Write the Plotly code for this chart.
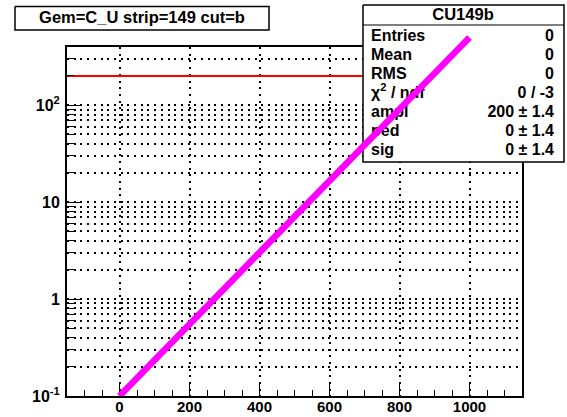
import plotly.graph_objects as go

W, H = 567, 417

# ---- axis data ----
x_range = [-150, 1150]
x_major = [0, 200, 400, 600, 800, 1000]
x_labels = ["0", "200", "400", "600", "800", "1000"]
y_decades = [0.1, 1, 10, 100]
y_labels = ["10<sup>-1</sup>", "1", "10", "10<sup>2</sup>"]
y_log_range = [-1, 2.6]
y_minor = [m * d for d in [0.1, 1, 10, 100] for m in range(2, 10) if m * d < 400]

# ---- curves ----
fit_x = [-150, 1150]          # fitted constant level (ampl)
fit_y = [200, 200]
diag_x = [0, 1000]            # reference line, drawn over the stats box
diag_y = [0.1, 500]

# ---- texts ----
title_text = "Gem=C_U strip=149 cut=b"
stats_name = "CU149b"
stats_labels = ["Entries", "Mean", "RMS", "\u03c7<sup>2</sup> / ndf", "ampl", "ped", "sig"]
stats_values = ["0", "0", "0", "0 / -3", "200 \u00b1 1.4", "0 \u00b1 1.4", "0 \u00b1 1.4"]

FONT = "Liberation Sans, Arial, Helvetica, sans-serif"

# frame in pixels
fl, fr, ft, fb = 67, 522, 47, 396
xdom = [fl / W, fr / W]
ydom = [(H - fb) / H, (H - ft) / H]
# pixels per decade, used to extend the overlay axis above the frame
ppd = (fb - ft) / (y_log_range[1] - y_log_range[0])
y3_top = y_log_range[0] + fb / ppd

fig = go.Figure()

# main pad: fit line
fig.add_trace(go.Scatter(x=fit_x, y=fit_y, mode="lines",
                         line=dict(color="#ff0000", width=2),
                         xaxis="x", yaxis="y", hoverinfo="skip", showlegend=False))

# boxes (title and stats) on a pixel-space overlay
def box(x0, y0, x1, y1):
    return go.Scatter(x=[x0, x1, x1, x0, x0], y=[y0, y0, y1, y1, y0], mode="lines",
                      fill="toself", fillcolor="white",
                      line=dict(color="black", width=1.5),
                      xaxis="x2", yaxis="y2", hoverinfo="skip", showlegend=False)

fig.add_trace(box(15, 6.5, 269, 30))
fig.add_trace(box(363, 5, 564, 162))
fig.add_trace(go.Scatter(x=[363, 564], y=[25, 25], mode="lines",
                         line=dict(color="black", width=1.2),
                         xaxis="x2", yaxis="y2", hoverinfo="skip", showlegend=False))

tfont = dict(family=FONT, size=16, color="black", weight="bold")
fig.add_trace(go.Scatter(x=[142], y=[18.5], mode="text", text=[title_text],
                         textposition="middle center",
                         textfont=dict(family=FONT, size=16.5, color="black", weight="bold"),
                         xaxis="x2", yaxis="y2", hoverinfo="skip", showlegend=False))
fig.add_trace(go.Scatter(x=[463], y=[16], mode="text", text=[stats_name],
                         textposition="middle center",
                         textfont=dict(family=FONT, size=16.5, color="black", weight="bold"),
                         xaxis="x2", yaxis="y2", hoverinfo="skip", showlegend=False))
row_y = [36.5 + 19.1 * i for i in range(len(stats_labels))]
fig.add_trace(go.Scatter(x=[371] * len(stats_labels), y=row_y, mode="text",
                         text=stats_labels, textposition="middle right", textfont=tfont,
                         xaxis="x2", yaxis="y2", hoverinfo="skip", showlegend=False))
fig.add_trace(go.Scatter(x=[554] * len(stats_values), y=row_y, mode="text",
                         text=stats_values, textposition="middle left", textfont=tfont,
                         xaxis="x2", yaxis="y2", hoverinfo="skip", showlegend=False))

# diagonal line on top of everything
fig.add_trace(go.Scatter(x=diag_x, y=diag_y, mode="lines",
                         line=dict(color="#ff00ff", width=6.5),
                         xaxis="x3", yaxis="y3", hoverinfo="skip", showlegend=False))

grid = dict(gridcolor="black", gridwidth=1.5, griddash="2px,4.7px")
tickfont = dict(family=FONT, size=16, color="black", weight="bold")
xtickfont = dict(family=FONT, size=15, color="black", weight="bold")

fig.update_layout(
    width=W, height=H,
    margin=dict(l=0, r=0, t=0, b=0, autoexpand=False),
    paper_bgcolor="white", plot_bgcolor="rgba(0,0,0,0)",
    showlegend=False,
    xaxis=dict(domain=xdom, range=x_range, showline=True, linecolor="black", linewidth=2,
               mirror=True, ticks="inside", ticklen=12, tickwidth=1.2, tickcolor="black",
               tickvals=x_major, ticktext=x_labels, tickfont=xtickfont, automargin=False,
               ticklabelstandoff=-4,
               showgrid=True, zeroline=False, **grid,
               minor=dict(ticks="inside", ticklen=6, tickwidth=1.2, tickcolor="black",
                          dtick=50, tick0=0, showgrid=False)),
    yaxis=dict(domain=ydom, type="log", range=y_log_range, showline=True, linecolor="black",
               linewidth=2, mirror=True, ticks="inside", ticklen=13, tickwidth=1.2,
               tickcolor="black", tickvals=y_decades, ticktext=y_labels, tickfont=tickfont,
               ticklabelstandoff=2, automargin=False, showgrid=True, zeroline=False, **grid,
               minor=dict(ticks="inside", ticklen=7, tickwidth=1.2, tickcolor="black",
                          tickmode="array", tickvals=y_minor, showgrid=True, **grid)),
    xaxis2=dict(domain=[0, 1], range=[0, W], visible=False, fixedrange=True, automargin=False),
    yaxis2=dict(domain=[0, 1], range=[H, 0], visible=False, fixedrange=True, automargin=False),
    xaxis3=dict(domain=xdom, range=x_range, visible=False, fixedrange=True, automargin=False),
    yaxis3=dict(domain=[ydom[0], 1], type="log", range=[y_log_range[0], y3_top],
                visible=False, fixedrange=True, automargin=False),
)

fig.write_html("out.html")
